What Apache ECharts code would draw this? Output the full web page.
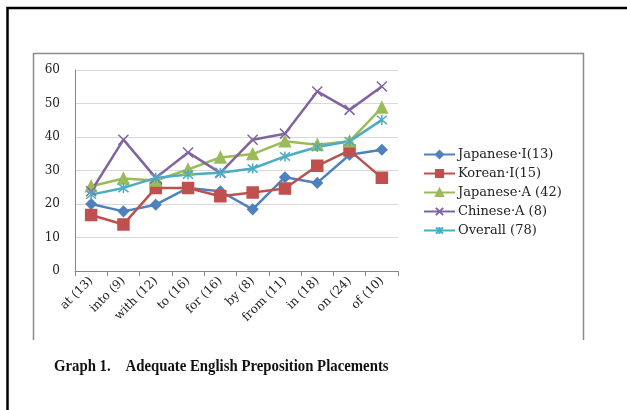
<!DOCTYPE html>
<html>
<head>
<meta charset="utf-8">
<script src="https://cdn.jsdelivr.net/npm/echarts@6/dist/echarts.min.js"></script>
<style>
  html, body { margin: 0; padding: 0; background: #fff; }
  #chart { width: 627px; height: 410px; }
</style>
</head>
<body>
<div id="chart"></div>
<script>
// 数据
const categories = ["at (13)", "into (9)", "with (12)", "to (16)", "for (16)",
                    "by (8)", "from (11)", "in (18)", "on (24)", "of (10)"];
const japaneseI = [20.0, 17.8, 19.8, 24.8, 23.8, 18.4, 28.0, 26.3, 34.7, 36.2];
const koreanI   = [16.7, 13.9, 24.8, 24.8, 22.3, 23.4, 24.6, 31.4, 36.0, 27.8];
const japaneseA = [25.3, 27.6, 27.0, 30.3, 33.9, 34.9, 38.7, 37.7, 38.7, 48.8];
const chineseA  = [23.8, 39.2, 27.8, 35.4, 29.3, 39.2, 41.0, 53.6, 48.1, 55.1];
const overall   = [22.8, 24.8, 27.8, 28.8, 29.3, 30.6, 34.2, 37.0, 38.7, 45.1];
const yTicks = { min: 0, max: 60, interval: 10 };

const serif = "DejaVu Serif";

// 系列生成
function makeSeries(name, data, color, symbol, size) {
    return {
        name: name,
        type: "line",
        data: data,
        symbol: symbol,
        symbolSize: size,
        showAllSymbol: true,
        lineStyle: { color: color, width: 2.5 },
        itemStyle: { color: color, borderColor: color, borderWidth: 1.5 },
        emphasis: { disabled: true },
        animation: false
    };
}

const xPath = "path://M0,0L10,10M10,0L0,10";
const starPath = "path://M0,0L10,10M10,0L0,10M5,-1L5,11";

const chart = echarts.init(document.getElementById("chart"));
chart.setOption({
    backgroundColor: "#fff",
    animation: false,
    color: ["#4F81BD", "#C0504D", "#9BBB59", "#8064A2", "#4BACC6"],
    grid: { left: 75, right: 229, top: 70, bottom: 139 },
    legend: {
        orient: "vertical",
        left: 418,
        top: 143,
        itemWidth: 31,
        itemHeight: 9,
        itemGap: 6,
        textStyle: { fontFamily: serif, fontSize: 13, color: "#222", padding: [0, 0, 0, -2] },
        data: ["Japanese·I(13)", "Korean·I(15)", "Japanese·A (42)", "Chinese·A (8)", "Overall (78)"]
    },
    xAxis: {
        type: "category",
        data: categories,
        boundaryGap: true,
        axisLine: { lineStyle: { color: "#868686", width: 1 } },
        axisTick: { show: true, length: 5, lineStyle: { color: "#868686" } },
        axisLabel: {
            rotate: 45,
            interval: 0,
            fontFamily: serif,
            fontSize: 12,
            color: "#222",
            margin: 8
        }
    },
    yAxis: {
        type: "value",
        min: yTicks.min,
        max: yTicks.max,
        interval: yTicks.interval,
        axisLine: { show: true, lineStyle: { color: "#868686", width: 1 } },
        axisTick: { show: false },
        splitLine: { lineStyle: { color: "#d9d9d9", width: 1 } },
        axisLabel: { fontFamily: serif, fontSize: 12, color: "#222", margin: 15 }
    },
    series: [
        makeSeries("Japanese·I(13)", japaneseI, "#4F81BD", "diamond", 10),
        makeSeries("Korean·I(15)", koreanI, "#C0504D", "rect", 11),
        makeSeries("Japanese·A (42)", japaneseA, "#9BBB59", "triangle", 11),
        makeSeries("Chinese·A (8)", chineseA, "#8064A2", xPath, 10),
        makeSeries("Overall (78)", overall, "#4BACC6", starPath, 10)
    ],
    graphic: [
        // 外框
        {
            type: "rect",
            shape: { x: 7.5, y: 8, width: 640, height: 420 },
            style: { fill: "none", stroke: "#000", lineWidth: 2.5 },
            silent: true
        },
        // 图表框（底部开口）
        {
            type: "polyline",
            shape: { points: [[33.5, 340], [33.5, 53.5], [583.5, 53.5], [583.5, 340]] },
            style: { fill: "none", stroke: "#8c8c8c", lineWidth: 1.5 },
            silent: true
        },
        // 标题
        {
            type: "text",
            left: 54,
            top: 358,
            style: {
                text: "Graph 1.    Adequate English Preposition Placements",
                font: "bold 17px 'Liberation Serif'",
                fill: "#111"
            },
            scaleX: 0.87,
            silent: true
        }
    ]
});
</script>
</body>
</html>
